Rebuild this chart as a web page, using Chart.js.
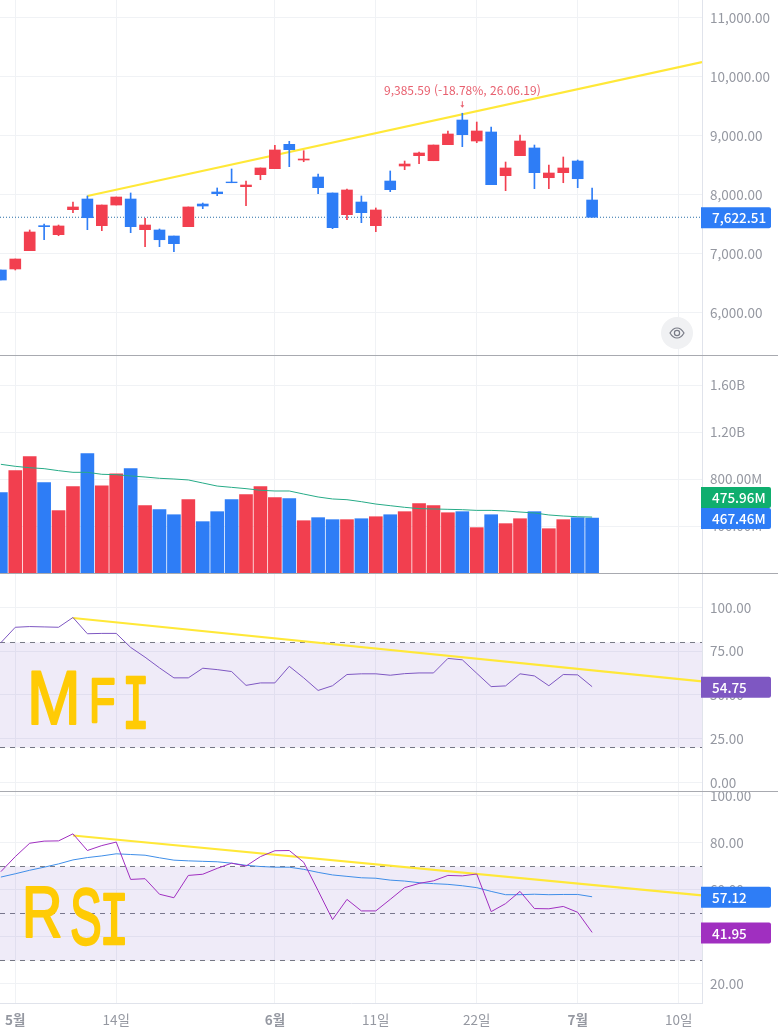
<!DOCTYPE html>
<html lang="ko">
<head>
<meta charset="utf-8">
<title>차트</title>
<script src="https://cdn.jsdelivr.net/npm/chart.js@4"></script>
<style>
    html, body { margin: 0; padding: 0; background: #fff; }
    #wrap { position: relative; width: 778px; height: 1034px; overflow: hidden; }
    #wrap canvas { position: absolute; left: 0; }
    .sep { position: absolute; left: 0; width: 778px; height: 1px; background: #a8aab0; }
    #eye { position: absolute; left: 661px; top: 317px; width: 32px; height: 32px; border-radius: 50%; background: #f0f1f3; }
    #eye svg { position: absolute; left: 8px; top: 8px; }
    #pen { position: absolute; left: 0; top: 0; }
    #pen text { fill: #ffcb05; stroke: #ffcb05; stroke-width: 2px; stroke-linejoin: round; vector-effect: non-scaling-stroke; }
</style>
</head>
<body>
<div id="wrap">
    <canvas id="price" width="778" height="355" style="top:0"></canvas>
    <canvas id="volume" width="778" height="217" style="top:356px"></canvas>
    <canvas id="mfi" width="778" height="217" style="top:574px"></canvas>
    <canvas id="rsi" width="778" height="242" style="top:792px"></canvas>
    <div class="sep" style="top:355px"></div>
    <div class="sep" style="top:573px"></div>
    <div class="sep" style="top:791px"></div>
    <div id="eye">
        <svg width="16" height="16" viewBox="0 0 16 16" fill="none" stroke="#787b86" stroke-width="1.2">
            <path d="M1 8c2-3.4 4.4-5 7-5s5 1.6 7 5c-2 3.4-4.4 5-7 5s-5-1.6-7-5z"/>
            <circle cx="8" cy="8" r="2.6"/>
        </svg>
    </div>
    <!-- marker writing on top of the indicator panes -->
    <svg id="pen" width="778" height="1034">
        <text font-family="Liberation Sans" font-size="70" transform="translate(27,724) scale(0.92,1.08)">M</text>
        <text font-family="Liberation Sans" font-size="70" transform="translate(89,722) scale(0.62,0.9)">F</text>
        <text font-family="Liberation Mono" font-size="70" transform="translate(122,728) scale(0.66,1.1)">I</text>
        <text font-family="Liberation Sans" font-size="70" transform="translate(22,937) scale(0.8,1.04)">R</text>
        <text font-family="Liberation Sans" font-size="70" transform="translate(70,944) scale(0.68,1.13)">S</text>
        <text font-family="Liberation Mono" font-size="70" transform="translate(99,944) scale(0.72,1.08)">I</text>
    </svg>
</div>

<script>
// weekly candles, the first entry sits one week left of the "5월" tick
const firstWeek = -1;

const opens = [6729, 6746, 7056, 7480, 7327, 7751, 7932, 7480, 7830, 7932, 7412, 7407, 7305, 7463, 7847, 8051, 8220, 8141, 8344, 8446, 8859, 8593, 8305, 8034, 7666, 7881, 7480, 8237, 8491, 8666, 8581, 8853, 9271, 8915, 9068, 8327, 8666, 8797, 8293, 8378, 8576, 7915];
const highs = [6729, 6915, 7407, 7508, 7491, 7881, 7983, 7830, 7966, 8034, 7605, 7424, 7305, 7797, 7864, 8119, 8441, 8237, 8458, 8842, 8910, 8751, 8356, 8034, 8102, 7983, 7780, 8407, 8576, 8729, 8847, 9085, 9385.59, 9237, 9153, 8559, 9017, 8847, 8508, 8644, 8593, 8119];
const lows = [6559, 6729, 7056, 7242, 7310, 7700, 7412, 7395, 7830, 7361, 7124, 7124, 7039, 7463, 7768, 7988, 8208, 7818, 8259, 8446, 8480, 8564, 8022, 7429, 7581, 7531, 7378, 8056, 8429, 8530, 8581, 8853, 8819, 8886, 8175, 8073, 8666, 8107, 8107, 8208, 8124, 7622.51];
const closes = [6559, 6915, 7373, 7463, 7475, 7797, 7615, 7830, 7966, 7463, 7491, 7242, 7175, 7797, 7813, 8022, 8208, 8169, 8458, 8763, 8768, 8610, 8124, 7446, 8085, 7700, 7746, 8090, 8525, 8712, 8847, 9034, 9022, 9085, 8175, 8458, 8915, 8378, 8373, 8458, 8276, 7622.51];

// volume in millions
const volumes = [684, 871, 990, 769, 531, 735, 1016, 743, 845, 888, 573, 539, 496, 624, 437, 522, 624, 667, 735, 641, 633, 445, 471, 454, 454, 462, 479, 496, 522, 590, 573, 513, 522, 386, 496, 420, 462, 522, 377, 454, 471, 467.46];
const volumeAvg = [925, 908, 896, 888, 871, 857, 857, 840, 837, 826, 817, 806, 800, 792, 766, 740, 729, 718, 704, 698, 698, 672, 647, 630, 624, 607, 587, 573, 559, 548, 545, 542, 539, 533, 533, 528, 519, 511, 494, 485, 479, 475.96];

const mfiValues = [79.9, 88.7, 89.1, 88.9, 88.7, 94.3, 85.0, 85.2, 85.2, 77.2, 71.6, 65.5, 59.8, 59.8, 65.3, 64.5, 63.4, 55.5, 56.9, 56.9, 66.4, 59.8, 52.6, 55.3, 61.7, 62.1, 62.1, 61.3, 62.2, 62.6, 62.6, 70.9, 70.1, 62.4, 54.8, 55.2, 62.1, 60.9, 55.3, 61.7, 61.5, 54.75];
const rsiValues = [67.8, 74.2, 79.9, 80.8, 80.9, 83.9, 76.8, 78.9, 80.4, 64.5, 64.8, 58.2, 56.7, 66.2, 66.7, 69.2, 71.4, 70.2, 74.2, 76.7, 76.8, 71.8, 59.7, 47.4, 56.0, 51.1, 51.1, 56.0, 61.0, 62.8, 63.9, 66.2, 66.0, 66.8, 50.8, 54.2, 59.4, 52.1, 52.0, 53.0, 50.5, 41.95];
const rsiAvg = [65.5, 66.9, 68.4, 69.7, 71.1, 72.8, 73.8, 74.5, 75.4, 75.1, 74.8, 73.7, 72.7, 72.4, 72.2, 72.0, 71.4, 70.5, 70.0, 69.7, 69.7, 68.8, 67.5, 66.4, 65.8, 65.2, 65.0, 64.2, 63.8, 63.1, 62.7, 62.4, 61.8, 61.0, 59.4, 58.0, 58.0, 58.2, 58.0, 58.1, 58.1, 57.12];

// hand drawn trend lines, [week, value]
const priceTrend = [[5, 7983], [47.62, 10254]];
const mfiTrend = [[4, 94.0], [47.62, 57.8]];
const rsiTrend = [[4, 83.2], [47.62, 57.7]];

const weekTicks = [0, 7, 18, 25, 32, 39, 46];
const weekLabels = ['5월', '14일', '6월', '11일', '22일', '7월', '10일'];
const monthLabels = ['5월', '6월', '7월'];

const priceTicks = [6000, 7000, 8000, 9000, 10000, 11000];
const volumeTicks = [400, 800, 1200, 1600];
const volumeTickLabels = ['400.00M', '800.00M', '1.20B', '1.60B'];
const mfiTicks = [0, 25, 50, 75, 100];
const rsiTicks = [20, 40, 60, 80, 100];

const mfiBands = [80, 20];
const rsiBands = [70, 50, 30];

const peakNote = '9,385.59 (-18.78%, 26.06.19)';

const UP = '#f23f4f', DOWN = '#2e7df6', TREND = '#ffe838';
const MFI_COL = '#7e57c2', RSI_COL = '#a02fc0', AVG_BLUE = '#3f8ee8', AVG_GREEN = '#26ab87';
const GRID = '#f0f2f5', AXIS = '#e0e3eb', TICK = '#9598a1';
const FONT = '"Noto Sans CJK KR", "Noto Sans", sans-serif';
const FONT_SIZE = 13.5;
const X_MIN = -1.06, X_MAX = 47.62;

Chart.defaults.font.family = FONT;
Chart.defaults.font.size = FONT_SIZE;
Chart.defaults.color = TICK;

const two = v => v.toLocaleString('en-US', { minimumFractionDigits: 2, maximumFractionDigits: 2 });
const series = arr => arr.map((v, i) => ({ x: i + firstWeek, y: v }));
const candleCols = opens.map((o, i) => closes[i] >= o ? UP : DOWN);

function lineSet(points, color, width, order, extra) {
    return Object.assign({
        type: 'line', data: points, borderColor: color, borderWidth: width,
        pointRadius: 0, tension: 0, fill: false, order: order
    }, extra);
}

function trendSet(trend) {
    return lineSet(trend.map(p => ({ x: p[0], y: p[1] })), TREND, 2.2, 6);
}

function bandSets(bands) {
    const bottom = bands[bands.length - 1];
    return bands.map((b, i) => lineSet([{ x: X_MIN, y: b }, { x: X_MAX, y: b }], '#787b86', 1, 9, {
        borderDash: [5, 5],
        fill: i === 0 ? { target: { value: bottom }, above: 'rgba(126,87,194,0.12)' } : false
    }));
}

// price boxes on the right axis, pushed apart when they would overlap
function axisLabels(labels) {
    return {
        id: 'axisLabels',
        afterDraw(chart) {
            const ctx = chart.ctx, area = chart.chartArea, y = chart.scales.y, h = 21;
            let prev = null;
            ctx.save();
            ctx.font = '500 ' + FONT_SIZE + 'px ' + FONT;
            ctx.textBaseline = 'middle';
            labels.forEach(l => {
                let py = y.getPixelForValue(l.value) + 0.5;
                if (prev !== null && Math.abs(prev - py) < h) py = prev - h;
                prev = py;
                ctx.fillStyle = l.color;
                ctx.beginPath();
                ctx.roundRect(area.right - 1, py - h / 2, 70, h, [0, 2, 2, 0]);
                ctx.fill();
                ctx.fillStyle = '#fff';
                ctx.fillText(l.text, area.right + 10, py + 0.5);
            });
            ctx.restore();
        }
    };
}

// note over the highest candle
const peakLabel = {
    id: 'peakLabel',
    afterDatasetsDraw(chart) {
        const high = Math.max(...highs);
        const px = chart.scales.x.getPixelForValue(highs.indexOf(high) + firstWeek);
        const py = chart.scales.y.getPixelForValue(high);
        const ctx = chart.ctx;
        ctx.save();
        ctx.fillStyle = ctx.strokeStyle = '#e8606f';
        ctx.font = '12px ' + FONT;
        ctx.textAlign = 'center';
        ctx.textBaseline = 'middle';
        ctx.fillText(peakNote, px, py - 23);
        ctx.lineWidth = 1;
        ctx.beginPath();
        ctx.moveTo(px, py - 12);
        ctx.lineTo(px, py - 7);
        ctx.stroke();
        ctx.beginPath();
        ctx.moveTo(px - 2, py - 8);
        ctx.lineTo(px + 2, py - 8);
        ctx.lineTo(px, py - 5.5);
        ctx.fill();
        ctx.restore();
    }
};

// month ticks are bold, the rest regular
function dateFont(c) {
    const label = c.tick ? weekLabels[weekTicks.indexOf(c.tick.value)] : '';
    return { size: FONT_SIZE, weight: monthLabels.includes(label) ? 'bold' : 'normal' };
}

// panes fill their canvas edge to edge, tick labels may overhang
function noPadding(s) {
    s.paddingTop = s.paddingBottom = s.paddingLeft = s.paddingRight = 0;
}

function options(yMin, yMax, yTicks, yLabel, withDates) {
    return {
        responsive: false,
        animation: false,
        events: [],
        layout: { padding: 0 },
        plugins: { legend: { display: false }, tooltip: { enabled: false } },
        scales: {
            x: {
                type: 'linear', min: X_MIN, max: X_MAX, offset: false,
                afterBuildTicks: s => { s.ticks = weekTicks.map(v => ({ value: v })); },
                afterFit: s => { s.height = withDates ? 31 : 0; noPadding(s); },
                grid: { color: GRID, drawTicks: false, offset: false },
                border: { display: withDates, color: AXIS },
                ticks: {
                    display: withDates, autoSkip: false, maxRotation: 0, padding: 9,
                    callback: v => weekLabels[weekTicks.indexOf(v)],
                    font: dateFont
                }
            },
            y: {
                position: 'right', min: yMin, max: yMax,
                afterBuildTicks: s => { s.ticks = yTicks.map(v => ({ value: v })); },
                afterFit: s => { s.width = 76; noPadding(s); },
                grid: { color: GRID, drawTicks: false },
                border: { color: AXIS },
                ticks: { padding: 8, autoSkip: false, callback: yLabel }
            }
        }
    };
}

function drawCharts() {
    const lastClose = closes[closes.length - 1];

    new Chart(document.getElementById('price'), {
        type: 'bar',
        data: {
            datasets: [
                // wicks sit behind the bodies
                {
                    data: lows.map((l, i) => ({ x: i + firstWeek, y: [l, highs[i]] })),
                    backgroundColor: candleCols, barThickness: 1, grouped: false, order: 2
                },
                {
                    data: opens.map((o, i) => ({ x: i + firstWeek, y: [o, closes[i]] })),
                    backgroundColor: candleCols, barThickness: 11, grouped: false, order: 1
                },
                lineSet([{ x: X_MIN, y: lastClose }, { x: X_MAX, y: lastClose }], '#2a6fa8', 1, 4, { borderDash: [1, 2] }),
                trendSet(priceTrend)
            ]
        },
        options: options(5288, 11305, priceTicks, two, false),
        plugins: [axisLabels([{ value: lastClose, text: two(lastClose), color: DOWN }]), peakLabel]
    });

    new Chart(document.getElementById('volume'), {
        type: 'bar',
        data: {
            datasets: [
                {
                    data: series(volumes), backgroundColor: candleCols,
                    barThickness: 13, grouped: false, order: 2
                },
                lineSet(series(volumeAvg), AVG_GREEN, 1, 1)
            ]
        },
        options: options(0, 1847, volumeTicks, v => volumeTickLabels[volumeTicks.indexOf(v)], false),
        plugins: [axisLabels([
            { value: volumes[volumes.length - 1], text: two(volumes[volumes.length - 1]) + 'M', color: DOWN },
            { value: volumeAvg[volumeAvg.length - 1], text: two(volumeAvg[volumeAvg.length - 1]) + 'M', color: '#0fae6e' }
        ])]
    });

    // y ranges keep the dashed band lines on whole pixel rows
    new Chart(document.getElementById('mfi'), {
        type: 'line',
        data: {
            datasets: [
                ...bandSets(mfiBands),
                lineSet(series(mfiValues), MFI_COL, 1, 2),
                trendSet(mfiTrend)
            ]
        },
        options: options(-4.86, 119.14, mfiTicks, two, false),
        plugins: [axisLabels([{ value: mfiValues[mfiValues.length - 1], text: two(mfiValues[mfiValues.length - 1]), color: MFI_COL }])]
    });

    new Chart(document.getElementById('rsi'), {
        type: 'line',
        data: {
            datasets: [
                ...bandSets(rsiBands),
                lineSet(series(rsiAvg), AVG_BLUE, 1, 3),
                lineSet(series(rsiValues), RSI_COL, 1, 2),
                trendSet(rsiTrend)
            ]
        },
        options: options(11.91, 101.7, rsiTicks, two, true),
        plugins: [axisLabels([
            { value: rsiAvg[rsiAvg.length - 1], text: two(rsiAvg[rsiAvg.length - 1]), color: DOWN },
            { value: rsiValues[rsiValues.length - 1], text: two(rsiValues[rsiValues.length - 1]), color: RSI_COL }
        ])]
    });
}

drawCharts();
</script>
</body>
</html>
